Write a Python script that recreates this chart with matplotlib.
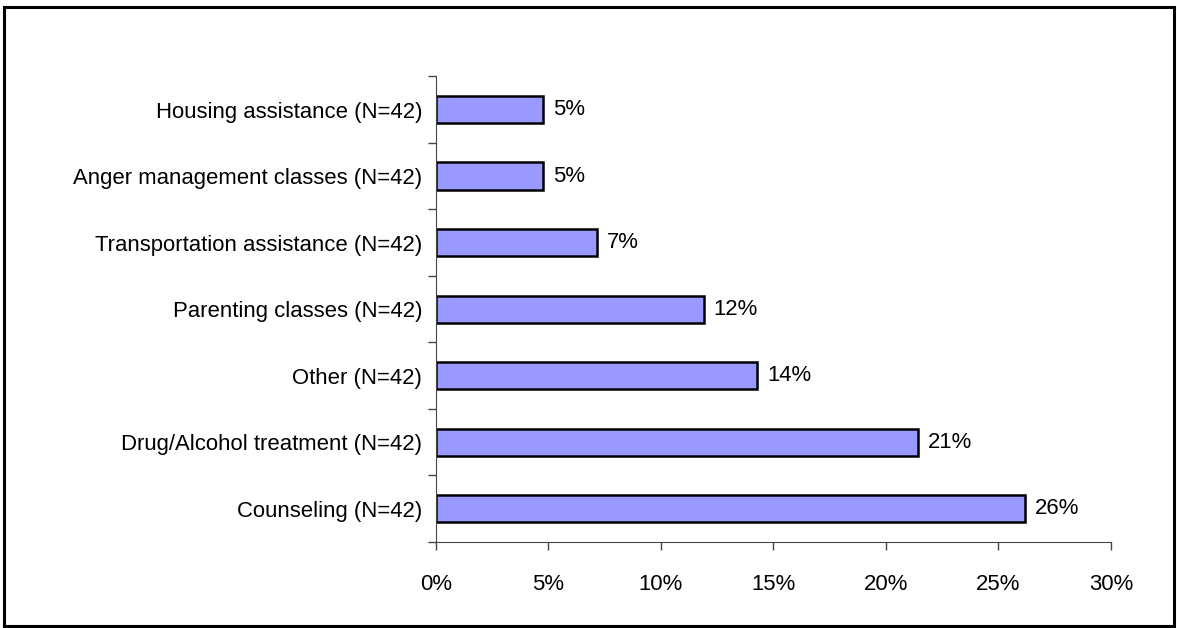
import matplotlib
matplotlib.use("Agg")
import matplotlib.pyplot as plt
from matplotlib.patches import Rectangle
from matplotlib.ticker import FixedLocator

plt.rcParams["font.family"] = ["Liberation Sans", "DejaVu Sans"]

categories = [
    "Counseling (N=42)",
    "Drug/Alcohol treatment (N=42)",
    "Other (N=42)",
    "Parenting classes (N=42)",
    "Transportation assistance (N=42)",
    "Anger management classes (N=42)",
    "Housing assistance (N=42)",
]
values = [26.19, 21.43, 14.29, 11.90, 7.14, 4.76, 4.76]
value_labels = ["26%", "21%", "14%", "12%", "7%", "5%", "5%"]
xticks = [0, 5, 10, 15, 20, 25, 30]

FS = 15.9

fig = plt.figure(figsize=(11.77, 6.28), dpi=100)
ax = fig.add_axes([0.3704, 0.1369, 0.5735, 0.7416])

pos = list(range(len(categories)))
ax.barh(pos, values, height=0.41, color="#9999ff", edgecolor="black", linewidth=1.8)

for y, v, lab in zip(pos, values, value_labels):
    ax.text(v + 0.45, y, lab, va="center", ha="left", fontsize=FS)

ax.set_xlim(0, 30)
ax.set_ylim(-0.5, len(categories) - 0.5)
ax.set_xticks(xticks)
ax.set_xticklabels([f"{t}%" for t in xticks], fontsize=FS)
ax.set_yticks(pos)
ax.set_yticklabels(categories, fontsize=FS)
ax.tick_params(axis="y", length=0, pad=10)
ax.yaxis.set_minor_locator(FixedLocator([p - 0.5 for p in pos] + [len(pos) - 0.5]))
ax.tick_params(axis="y", which="minor", length=6, width=1, color="#444444")
ax.tick_params(axis="x", length=6, width=1, color="#444444", pad=17)

for side in ["top", "right"]:
    ax.spines[side].set_visible(False)
ax.spines["left"].set_color("#444444")
ax.spines["bottom"].set_color("#444444")

w, h = fig.get_size_inches() * fig.dpi
fig.patches.append(Rectangle((4 / w, 2 / h), 1 - 7 / w, 1 - 9 / h, transform=fig.transFigure,
                             fill=False, edgecolor="black", linewidth=2.2))

fig.savefig("out.png", dpi=100)
